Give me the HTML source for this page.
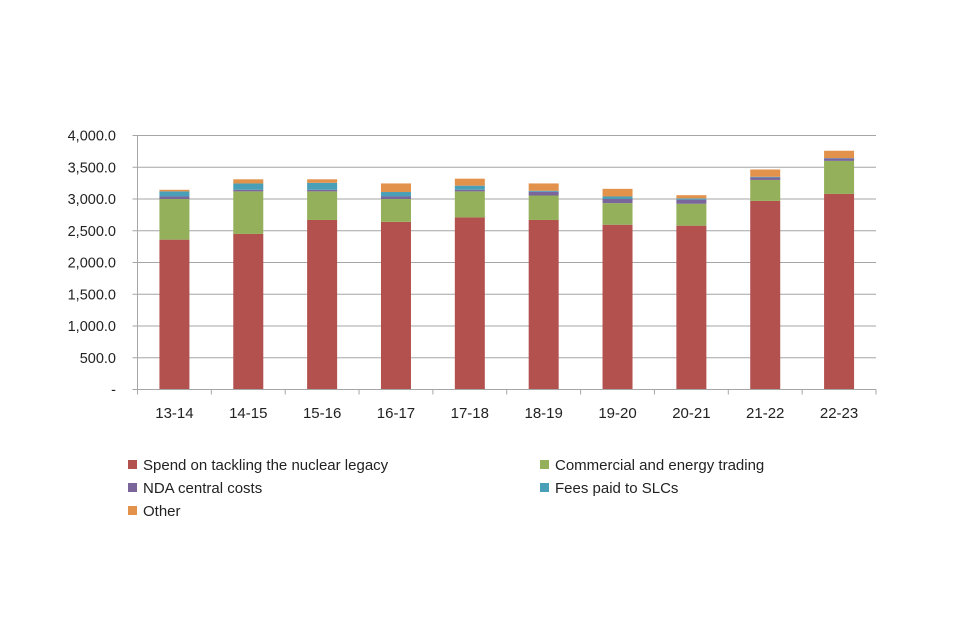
<!DOCTYPE html>
<html><head><meta charset="utf-8"><style>
body{margin:0;background:#fff;}
svg{display:block;font-family:"Liberation Sans",sans-serif;}
</style></head><body>
<svg id="chart" width="960" height="640"></svg>
<script>
const categories=["13-14","14-15","15-16","16-17","17-18","18-19","19-20","20-21","21-22","22-23"];
const legacy=[2360,2450,2670,2640,2710,2670,2595,2580,2970,3080];
const commercial=[640,670,450,360,410,385,340,345,330,520];
const central=[40,25,25,40,25,60,65,65,40,40];
const fees=[80,100,110,70,65,15,40,20,10,5];
const other=[25,65,55,135,110,115,120,50,115,115];
const yTicks=[0,500,1000,1500,2000,2500,3000,3500,4000];
const yTickLabels=["-","500.0","1,000.0","1,500.0","2,000.0","2,500.0","3,000.0","3,500.0","4,000.0"];
const seriesNames=["Spend on tackling the nuclear legacy","Commercial and energy trading","NDA central costs","Fees paid to SLCs","Other"];
const seriesColors=["#b3514f","#94b05a","#7b669b","#4a9fb8","#e2924b"];
const seriesData=[legacy,commercial,central,fees,other];

const NS="http://www.w3.org/2000/svg";
const svg=document.getElementById('chart');
const X0=137.5,X1=876,Y0=389.5,Y1=135.5,MAX=4000;
const band=(X1-X0)/categories.length;
const y=v=>Y0-(v/MAX)*(Y0-Y1);
const xc=i=>X0+band*(i+0.5);
function mk(t,a){const e=document.createElementNS(NS,t);for(const k in a)e.setAttribute(k,a[k]);svg.appendChild(e);return e;}

yTicks.forEach((v,i)=>{
  if(v>0){const g=mk('line',{x1:X0,x2:X1,y1:y(v),y2:y(v),stroke:'#a6a6a6','stroke-width':1});
  
  }
  const tk=mk('line',{x1:X0-5,x2:X0,y1:y(v),y2:y(v),stroke:'#a6a6a6'});
  
  
  const t=mk('text',{x:116,y:y(v)+5,'text-anchor':'end','font-size':14.5,fill:'#222'});
  t.textContent=yTickLabels[i];
  
  
});
const ya=mk('line',{x1:X0,x2:X0,y1:Y1,y2:Y0,stroke:'#a6a6a6'});



categories.forEach((c,i)=>{
  let base=0;
  seriesData.forEach((s,k)=>{
    const v=s[i];
    const r=mk('rect',{x:xc(i)-15,width:30,y:y(base+v),height:y(base)-y(base+v),fill:seriesColors[k]});
    
    
    base+=v;
  });
  const t=mk('text',{x:xc(i),y:418,'text-anchor':'middle','font-size':15,fill:'#222'});
  t.textContent=c;
  
  
});
const xa=mk('line',{x1:X0,x2:X1,y1:Y0,y2:Y0,stroke:'#a6a6a6'});


for(let i=0;i<=categories.length;i++){
  const tk=mk('line',{x1:X0+band*i,x2:X0+band*i,y1:Y0,y2:Y0+5,stroke:'#a6a6a6'});
  
  
}
const pos=[[128,465],[540,465],[128,488],[540,488],[128,511]];
seriesNames.forEach((n,k)=>{
  const r=mk('rect',{x:pos[k][0],y:pos[k][1]-5,width:9,height:9,fill:seriesColors[k]});
  
  
  const t=mk('text',{x:pos[k][0]+15,y:pos[k][1]+5,'font-size':15,fill:'#222'});
  t.textContent=n;
  
  
});
</script>
</body></html>
